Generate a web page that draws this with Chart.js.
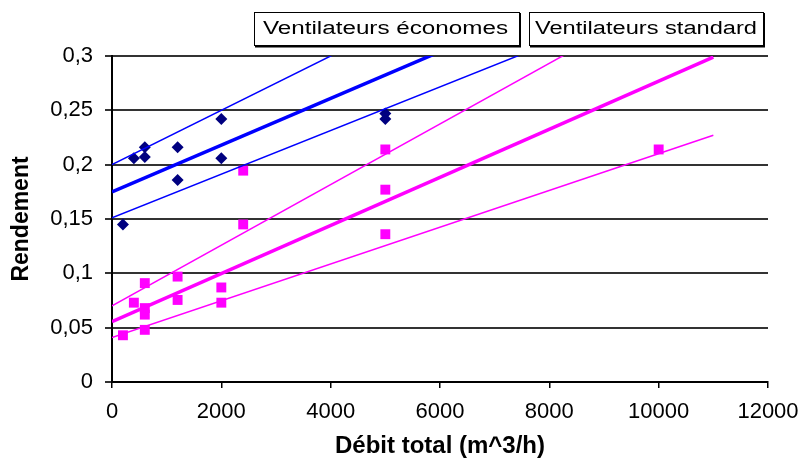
<!DOCTYPE html>
<html>
<head>
<meta charset="utf-8">
<script src="https://cdn.jsdelivr.net/npm/chart.js@4/dist/chart.umd.min.js"></script>
<style>
  html, body { margin: 0; padding: 0; background: #fff; }
  #wrap { width: 800px; height: 468px; }
</style>
</head>
<body>
<div id="wrap"><canvas id="chartRendement" width="800" height="468"></canvas></div>
<script>
// Données
const seriesNames = ['Ventilateurs économes', 'Ventilateurs standard'];

const econX = [200, 400, 600, 600, 1200, 1200, 2000, 2000, 5000, 5000];
const econY = [0.145, 0.206, 0.216, 0.207, 0.216, 0.186, 0.242, 0.206, 0.247, 0.242];

const stdX = [200, 400, 600, 600, 600, 600, 1200, 1200, 2000, 2000, 2400, 2400, 5000, 5000, 5000, 10000];
const stdY = [0.043, 0.073, 0.091, 0.068, 0.062, 0.048, 0.097, 0.0755, 0.087, 0.073, 0.1945, 0.145, 0.214, 0.177, 0.136, 0.214];

// Droites de tendance (début / fin)
const lineX = [0, 11000];
const econFit = [0.175, 0.4115];
const econHigh = [0.200, 0.475];
const econLow = [0.151, 0.372];
const stdFit = [0.0555, 0.299];
const stdHigh = [0.070, 0.377];
const stdLow = [0.041, 0.227];

const yTickLabels = ['0', '0,05', '0,1', '0,15', '0,2', '0,25', '0,3'];
const xTickLabels = ['0', '2000', '4000', '6000', '8000', '10000', '12000'];

const tickFont = { family: '"Liberation Sans", Arial, sans-serif', size: 22 };

function pts(xs, ys) {
    return xs.map((x, i) => ({ x: x, y: ys[i] }));
}

function trend(ys, color, width) {
    return {
        type: 'line',
        data: pts(lineX, ys),
        borderColor: color,
        borderWidth: width,
        pointRadius: 0,
        fill: false,
        tension: 0
    };
}

// Légende encadrée en haut (texte étiré comme sur l'original)
const legendBoxes = {
    id: 'legendBoxes',
    afterDraw(chart) {
        const ctx = chart.ctx;
        const boxes = [
            { x: 254, w: 265, tx: 263, tw: 245, text: seriesNames[0] },
            { x: 529, w: 234, tx: 535, tw: 222, text: seriesNames[1] }
        ];
        ctx.save();
        ctx.font = '18px "Liberation Sans", Arial, sans-serif';
        ctx.textBaseline = 'middle';
        boxes.forEach(b => {
            ctx.fillStyle = '#fff';
            ctx.fillRect(b.x, 12, b.w, 34);
            ctx.strokeStyle = '#000';
            ctx.lineWidth = 1;
            ctx.strokeRect(b.x + 0.5, 12.5, b.w, 33);
            ctx.lineWidth = 2;
            ctx.beginPath();
            ctx.moveTo(b.x + 1, 46.5);
            ctx.lineTo(b.x + b.w + 1, 46.5);
            ctx.lineTo(b.x + b.w + 1, 13);
            ctx.stroke();
            const k = b.tw / ctx.measureText(b.text).width;
            ctx.save();
            ctx.translate(b.tx, 29);
            ctx.scale(k, 1);
            ctx.fillStyle = '#000';
            ctx.fillText(b.text, 0, 0);
            ctx.restore();
        });
        ctx.restore();
    }
};

const ctx = document.getElementById('chartRendement');
new Chart(ctx.getContext('2d'), {
    type: 'scatter',
    data: {
        datasets: [
            trend(econHigh, '#0000ff', 1.5),
            trend(econFit, '#0000ff', 3.5),
            trend(econLow, '#0000ff', 1.5),
            trend(stdHigh, '#ff00ff', 1.5),
            trend(stdFit, '#ff00ff', 3.5),
            trend(stdLow, '#ff00ff', 1.5),
            {
                label: seriesNames[0],
                data: pts(econX, econY),
                pointStyle: 'rectRot',
                pointRadius: 6,
                backgroundColor: '#000080',
                borderColor: '#000080',
                borderWidth: 0
            },
            {
                label: seriesNames[1],
                data: pts(stdX, stdY),
                pointStyle: 'rect',
                pointRadius: 7,
                backgroundColor: '#ff00ff',
                borderColor: '#ff00ff',
                borderWidth: 0
            }
        ]
    },
    options: {
        responsive: false,
        animation: false,
        layout: { padding: { top: 56, right: 32, left: 0, bottom: 0 } },
        plugins: {
            legend: { display: false },
            tooltip: { enabled: false }
        },
        scales: {
            x: {
                type: 'linear',
                min: 0,
                max: 12000,
                afterFit: s => { s.height = 86; s.paddingLeft = 0; s.paddingRight = 0; },
                ticks: {
                    stepSize: 2000,
                    color: '#000',
                    font: tickFont,
                    padding: 11,
                    maxRotation: 0,
                    callback: (v, i) => xTickLabels[i]
                },
                grid: { drawOnChartArea: false, drawTicks: true, tickLength: 6, color: '#000', lineWidth: 1.5 },
                border: { display: true, color: '#000', width: 2 },
                title: {
                    display: true, text: 'Débit total (m^3/h)', color: '#000',
                    font: { family: '"Liberation Sans", Arial, sans-serif', size: 24, weight: 'bold' },
                    padding: { top: 0, bottom: 7 }
                }
            },
            y: {
                min: 0,
                max: 0.3,
                afterFit: s => { s.width = 112; s.paddingTop = 0; s.paddingBottom = 0; },
                ticks: {
                    stepSize: 0.05,
                    color: '#000',
                    font: tickFont,
                    padding: 12,
                    callback: (v, i) => yTickLabels[i]
                },
                grid: { color: '#333', lineWidth: 2, tickLength: 7 },
                border: { display: true, color: '#000', width: 2 },
                title: {
                    display: true, text: 'Rendement', color: '#000',
                    font: { family: '"Liberation Sans", Arial, sans-serif', size: 23, weight: 'bold' },
                    padding: { top: 8, bottom: 0 }
                }
            }
        }
    },
    plugins: [legendBoxes]
});
</script>
</body>
</html>
